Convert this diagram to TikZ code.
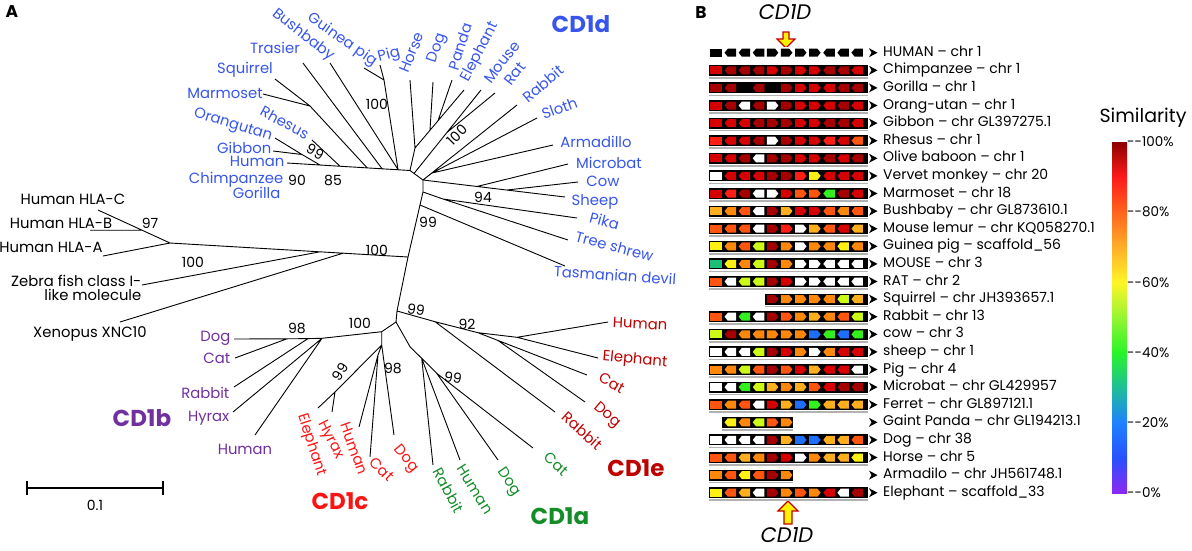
\documentclass[tikz,border=0pt]{standalone}
\usepackage{fontspec}
\setmainfont{Poppins}
\usepackage{tikz}

\definecolor{cdd}{RGB}{55,85,235}
\definecolor{cdb}{RGB}{112,48,160}
\definecolor{cdc}{RGB}{250,20,20}
\definecolor{cde}{RGB}{190,0,0}
\definecolor{cda}{RGB}{20,140,40}
\definecolor{gK}{RGB}{0,0,0}
\definecolor{gW}{RGB}{255,255,255}
\definecolor{gDR}{RGB}{165,0,0}
\definecolor{gR}{RGB}{215,0,0}
\definecolor{gBR}{RGB}{255,30,20}
\definecolor{gOR}{RGB}{255,85,15}
\definecolor{gO}{RGB}{255,135,10}
\definecolor{gLO}{RGB}{255,175,30}
\definecolor{gY}{RGB}{255,240,20}
\definecolor{gYG}{RGB}{205,250,20}
\definecolor{gG}{RGB}{50,240,30}
\definecolor{gTG}{RGB}{30,190,120}
\definecolor{gB}{RGB}{30,110,250}
\definecolor{sb0}{RGB}{140,40,240}
\definecolor{sb1}{RGB}{40,80,255}
\definecolor{sb2}{RGB}{30,130,255}
\definecolor{sb3}{RGB}{30,190,150}
\definecolor{sb4}{RGB}{40,245,40}
\definecolor{sb5}{RGB}{150,245,50}
\definecolor{sb6}{RGB}{255,245,40}
\definecolor{sb7}{RGB}{255,175,40}
\definecolor{sb8}{RGB}{255,100,30}
\definecolor{sb9}{RGB}{255,25,25}
\definecolor{sb10}{RGB}{140,0,0}
\pgfdeclareverticalshading{simbar}{100bp}{color(0bp)=(sb0); color(25bp)=(sb0); color(30bp)=(sb1);
  color(35bp)=(sb2); color(40bp)=(sb3); color(45bp)=(sb4); color(50bp)=(sb5); color(55bp)=(sb6);
  color(60bp)=(sb7); color(65bp)=(sb8); color(70bp)=(sb9); color(75bp)=(sb10); color(100bp)=(sb10)}

\begin{document}
\begin{tikzpicture}[x=1pt,y=-1pt,
  br/.style={line width=0.9pt},
  lf/.style={font=\fontsize{14.8}{16}\selectfont,inner sep=0.5pt,text height=10pt,text depth=2.5pt},
  bs/.style={font=\fontsize{14}{16}\selectfont,inner sep=0pt,text height=10pt,text depth=0pt},
  grp/.style={font=\fontsize{23}{26}\selectfont\bfseries,inner sep=0pt,text height=16pt,text depth=0pt},
  panel/.style={font=\fontsize{17}{20}\selectfont\bfseries,inner sep=0pt},
  rowlbl/.style={font=\fontsize{14}{15}\selectfont,anchor=west,inner sep=0pt,text height=9.5pt,text depth=2.5pt},
  tk/.style={font=\fontsize{13.5}{15}\selectfont,anchor=west,inner sep=0pt,text height=9.5pt,text depth=0pt},
  cdname/.style={font=\fontsize{21}{24}\selectfont\itshape,inner sep=0pt,text height=15pt,text depth=0pt},
  mk/.style={draw=cde,fill=yellow,line width=1.2pt,line join=miter}]
\useasboundingbox (0,0) rectangle (1192,550);

\node[panel] (pa) at (12,12) {A};
\node[panel] (pb) at (701,13) {B};

% CD1d
\coordinate (h1) at (410,170.5);
\coordinate (h2) at (423,180);
\coordinate (tdHum) at (287,163);
\coordinate (p1) at (320,165);
\coordinate (p2) at (302,154.5);
\coordinate (tdOra) at (275,138);
\coordinate (tdGib) at (273,151);
\coordinate (p3) at (340,166.2);
\coordinate (tdRhe) at (312,140);
\coordinate (q1) at (367,167.7);
\coordinate (q0) at (310,106);
\coordinate (tdMar) at (263,94);
\coordinate (tdSqu) at (275,79);
\coordinate (q2) at (382,168.6);
\coordinate (tdTra) at (303,63);
\coordinate (q3) at (398,169.5);
\coordinate (tdBus) at (330,63);
\coordinate (g0) at (384,80);
\coordinate (tdGui) at (364,68);
\coordinate (tdPig) at (380,65);
\coordinate (u1) at (415,148);
\coordinate (tdHor) at (410,80);
\coordinate (tdEle) at (464,90);
\coordinate (u2) at (430,130.2);
\coordinate (tdDog) at (433,82);
\coordinate (u3) at (438,120.8);
\coordinate (tdPan) at (452,80);
\coordinate (m0) at (414,173.5);
\coordinate (m1) at (447,132.4);
\coordinate (tdMou) at (481,90);
\coordinate (tdRat) at (495,93);
\coordinate (tdRab) at (517,105);
\coordinate (h3) at (432,173);
\coordinate (tdSlo) at (537,118);
\coordinate (tdArm) at (553,145);
\coordinate (s1) at (477,186.5);
\coordinate (s2) at (507,190);
\coordinate (tdShe) at (565,197);
\coordinate (tdMic) at (568,164);
\coordinate (tdCow) at (578,182);
\coordinate (t1) at (423,192);
\coordinate (t2) at (443,199);
\coordinate (tdPik) at (577,218);
\coordinate (tdTre) at (568,240);
\coordinate (t3) at (420,205);
\coordinate (tdTas) at (565,266);

\draw[br] (tdHum) -- (h1) -- (h2) (p1) -- (p2) -- (tdOra) (p2) -- (tdGib) (p3) -- (tdRhe)
  (q1) -- (q0) -- (tdMar) (q0) -- (tdSqu) (q2) -- (tdTra) (q3) -- (tdBus)
  (q3) -- (g0) -- (tdPig) (g0) -- (tdGui)
  (h1) -- (u1) -- (tdHor) (u1) -- (tdEle) (u2) -- (tdDog) (u3) -- (tdPan)
  (m0) -- (tdMou) (m1) -- (tdRat) (h2) -- (tdRab) (h2) -- (h3) -- (tdSlo) (h3) -- (tdArm)
  (h2) -- (tdShe) (s1) -- (tdMic) (s2) -- (tdCow)
  (t1) -- (t2) -- (tdPik) (t2) -- (tdTre) (t3) -- (tdTas);

\node[lf,text=cdd,rotate=-38] (ldBus) at (303,35) {Bushbaby};
\node[lf,text=cdd,rotate=-35] (ldGui) at (342,40) {Guinea pig};
\node[lf,text=cdd] (ldTra) at (275,50) {Trasier};
\node[lf,text=cdd] (ldSqu) at (245,70) {Squirrel};
\node[lf,text=cdd] (ldMar) at (225,95) {Marmoset};
\node[lf,text=cdd,rotate=-28] (ldRhe) at (284,124) {Rhesus};
\node[lf,text=cdd,rotate=-17] (ldOra) at (233,125) {Orangutan};
\node[lf,text=cdd,anchor=east] (ldGib) at (272,150) {Gibbon};
\node[lf,text=cdd,anchor=east] (ldHum) at (285,163) {Human};
\node[lf,text=cdd,anchor=east] (ldChi) at (284,180) {Chimpanzee};
\node[lf,text=cdd,anchor=east] (ldGor) at (281,195) {Gorilla};
\node[lf,text=cdd,rotate=15] (ldPig) at (389,55) {Pig};
\node[lf,text=cdd,rotate=68] (ldHor) at (413,53) {Horse};
\node[lf,text=cdd,rotate=72] (ldDog) at (437,48) {Dog};
\node[lf,text=cdd,rotate=72] (ldPan) at (462,47) {Panda};
\node[lf,text=cdd,rotate=62] (ldEle) at (480,52) {Elephant};
\node[lf,text=cdd,rotate=52] (ldMou) at (503,63) {Mouse};
\node[lf,text=cdd,rotate=52] (ldRat) at (516,75) {Rat};
\node[lf,text=cdd,rotate=40] (ldRab) at (544,85) {Rabbit};
\node[lf,text=cdd,rotate=20] (ldSlo) at (560,110) {Sloth};
\node[lf,text=cdd] (ldArm) at (596,144) {Armadillo};
\node[lf,text=cdd] (ldMic) at (609,165) {Microbat};
\node[lf,text=cdd] (ldCow) at (603,183) {Cow};
\node[lf,text=cdd] (ldShe) at (595,202) {Sheep};
\node[lf,text=cdd,rotate=-15] (ldPik) at (604,223) {Pika};
\node[lf,text=cdd,rotate=-15] (ldTre) at (614,248) {Tree shrew};
\node[lf,text=cdd,rotate=-4] (ldTas) at (615,277) {Tasmanian devil};
\node[grp,text=cdd] (gd) at (581,24) {CD1d};

% outgroups
\coordinate (o1) at (408,257);
\coordinate (hl1) at (170,243);
\coordinate (z0) at (320,251.8);
\coordinate (x0) at (343,253.2);
\coordinate (tZeb) at (142,285);
\coordinate (tXen) at (120,322);
\coordinate (tHLA) at (103,256);
\coordinate (tHLC) at (98,210);
\coordinate (hb) at (142,230.2);
\coordinate (tHLB) at (90,230.2);

\draw[br] (o1) -- (hl1) -- (tHLA) (hl1) -- (tHLC) (hb) -- (tHLB) (z0) -- (tZeb) (x0) -- (tXen);

\node[lf] (lHLC) at (73,201) {Human HLA-C};
\node[lf] (lHLB) at (61,225) {Human HLA-B};
\node[lf] (lHLA) at (51,249) {Human HLA-A};
\node[lf,anchor=east,align=right,font=\fontsize{14.8}{13.5}\selectfont,text height=,text depth=] (lZeb) at (142,288) {Zebra fish class I-\\like molecule};
\node[lf] (lXen) at (90,334) {Xenopus XNC10};

% backbone, CD1e, CD1a
\coordinate (b0) at (397,311);
\coordinate (h4) at (396,322);
\coordinate (e1) at (435,321.7);
\coordinate (e2) at (478,332.7);
\coordinate (e3) at (517,337.3);
\coordinate (e4) at (498,340.5);
\coordinate (teHum) at (608,322);
\coordinate (teEle) at (598,358);
\coordinate (teCat) at (587,375);
\coordinate (teDog) at (585,402);
\coordinate (teRab) at (555,412);
\coordinate (a0) at (410,346.7);
\coordinate (a1) at (421.7,358.3);
\coordinate (a2) at (436.7,373.3);
\coordinate (taRab) at (433,465);
\coordinate (taHum) at (460,460);
\coordinate (taDog) at (498,460);
\coordinate (taCat) at (533,448);

\draw[br] (h2) -- (t1) -- (t3) -- (o1) -- (b0) -- (h4)
  (b0) -- (e1) -- (e2) -- (e3) -- (teHum) (e3) -- (teEle) (e2) -- (teCat) (e4) -- (teDog) (e1) -- (teRab)
  (h4) -- (a0) -- (a1) -- (taRab) (a1) -- (taHum) (a1) -- (a2) -- (taDog) (a2) -- (taCat);

\node[lf,text=cde,rotate=-3] (leHum) at (640,325) {Human};
\node[lf,text=cde,rotate=-5] (leEle) at (635,360) {Elephant};
\node[lf,text=cde,rotate=-30] (leCat) at (611,384) {Cat};
\node[lf,text=cde,rotate=-40] (leDog) at (607,415) {Dog};
\node[lf,text=cde,rotate=-42] (leRab) at (581,432) {Rabbit};
\node[grp,text=cde] (ge) at (636,468) {CD1e};

\node[lf,text=cda,rotate=-62] (laRab) at (447,491) {Rabbit};
\node[lf,text=cda,rotate=-58] (laHum) at (474,490) {Human};
\node[lf,text=cda,rotate=-55] (laDog) at (509,482) {Dog};
\node[lf,text=cda,rotate=-42] (laCat) at (555,465) {Cat};
\node[grp,text=cda] (ga) at (560,516) {CD1a};

% CD1b, CD1c
\coordinate (h5) at (381.7,331.7);
\coordinate (h6) at (381.7,345);
\coordinate (b1) at (322,338.3);
\coordinate (b2) at (308,338.6);
\coordinate (b3) at (287,338.8);
\coordinate (tbDog) at (234,339);
\coordinate (tbCat) at (235,358);
\coordinate (tbRab) at (234,387);
\coordinate (tbHyr) at (233,412);
\coordinate (tbHum) at (255,435);
\coordinate (c1) at (335,392);
\coordinate (c2) at (378,355);
\coordinate (tcEle) at (318,408);
\coordinate (tcHyr) at (332,412);
\coordinate (tcHum) at (359,427);
\coordinate (tcCat) at (370,457);
\coordinate (tcDog) at (394,435);

\draw[br] (h4) -- (h5) -- (b1) -- (b2) -- (b3) -- (tbDog) (b3) -- (tbCat) (b2) -- (tbRab) (b1) -- (tbHyr) (b1) -- (tbHum)
  (h5) -- (h6) -- (c1) -- (tcEle) (c1) -- (tcHyr) (h6) -- (c2) -- (tcHum) (c2) -- (tcCat) (h6) -- (tcDog);

\node[lf,text=cdb,anchor=east] (lbDog) at (231,338) {Dog};
\node[lf,text=cdb,anchor=east] (lbCat) at (231,360) {Cat};
\node[lf,text=cdb,anchor=east] (lbRab) at (230,395) {Rabbit};
\node[lf,text=cdb,anchor=east] (lbHyr) at (230,418) {Hyrax};
\node[lf,text=cdb] (lbHum) at (245,451) {Human};
\node[grp,text=cdb] (gb) at (142,418) {CD1b};

\node[lf,text=cdc,rotate=-72] (lcEle) at (312,445) {Elephant};
\node[lf,text=cdc,rotate=-63] (lcHyr) at (331,440) {Hyrax};
\node[lf,text=cdc,rotate=-70] (lcHum) at (353,449) {Human};
\node[lf,text=cdc,rotate=-45] (lcCat) at (381,470) {Cat};
\node[lf,text=cdc,rotate=-50] (lcDog) at (406,459) {Dog};
\node[grp,text=cdc] (gc) at (340,501) {CD1c};

% bootstrap values
\node[bs,rotate=-30] (n1) at (315,152) {99};
\node[bs] (n2) at (297,180) {90};
\node[bs] (n3) at (333,180) {85};
\node[bs] (n4) at (377,104) {100};
\node[bs,rotate=45] (n5) at (457,135) {100};
\node[bs] (n6) at (483,197) {94};
\node[bs] (n7) at (428,222) {99};
\node[bs] (n8) at (377,250) {100};
\node[bs] (n9) at (193,262) {100};
\node[bs] (n10) at (150,223) {97};
\node[bs] (n11) at (297,328) {98};
\node[bs] (n12) at (360,323) {100};
\node[bs,rotate=-10] (n13) at (416,310) {99};
\node[bs] (n14) at (467,324) {92};
\node[bs,rotate=55] (n15) at (340,372) {99};
\node[bs] (n16) at (393,368) {98};
\node[bs,rotate=-10] (n17) at (453,378) {99};

% scale bar
\coordinate (sb0) at (27,488);
\coordinate (sb1) at (163,488);
\draw[line width=1.8pt] (sb0) -- (sb1) ([yshift=-7pt]sb0) -- ([yshift=7pt]sb0) ([yshift=-7pt]sb1) -- ([yshift=7pt]sb1);
\node[bs] (sbl) at (95,505) {0.1};

% panel B
\node[cdname] (cdTop) at (785,12) {CD1D};
\node[cdname] (cdBot) at (787,535) {CD1D};
\draw[mk] (783,32) -- (789,32) -- (789,39) -- (795,39) -- (786,48) -- (777,39) -- (783,39) -- cycle;
\draw[mk] (784,524) -- (792,524) -- (792,511) -- (798,511) -- (788,501) -- (778,511) -- (784,511) -- cycle;

\foreach \lbl/\xa/\xb/\fst/\bg/\cols [count=\r from 0] in {
  HUMAN – chr 1/709/868/0/white/{gK,gK,gK,gK,gK,gK,gK,gK,gK,gK,gK},
  Chimpanzee – chr 1/709/868/0/black/{gR,gDR,gDR,gDR,gR,gDR,gR,gR,gDR,gDR,gR},
  Gorilla – chr 1/709/868/0/black/{gDR,gDR,gK,gDR,gK,gDR,gR,gR,gR,gDR,gDR},
  Orang-utan – chr 1/709/868/0/black/{gR,gDR,gW,gDR,gW,gDR,gR,gR,gR,gDR,gR},
  Gibbon – chr GL397275.1/709/868/0/black/{gR,gR,gR,gDR,gDR,gDR,gR,gR,gDR,gDR,gR},
  Rhesus – chr 1/709/868/0/black/{gBR,gR,gR,gDR,gW,gDR,gR,gR,gBR,gR,gOR},
  Olive baboon – chr 1/709/868/0/black/{gR,gR,gDR,gW,gDR,gDR,gR,gR,gDR,gR,gDR},
  Vervet monkey – chr 20/709/868/0/black/{gW,gR,gR,gR,gDR,gDR,gBR,gY,gR,gR,gR},
  Marmoset – chr 18/709/868/0/black/{gR,gBR,gDR,gW,gW,gR,gOR,gOR,gG,gDR,gR},
  Bushbaby – chr GL873610.1/709/868/0/black/{gLO,gO,gOR,gW,gDR,gLO,gR,gR,gOR,gO,gOR},
  Mouse lemur – chr KQ058270.1/709/868/0/black/{gOR,gOR,gOR,gW,gDR,gBR,gW,gLO,gOR,gR,gLO},
  Guinea pig – scaffold\_56/709/868/0/black/{gY,gO,gOR,gYG,gDR,gO,gW,gO,gO,gY,gO},
  MOUSE – chr 3/709/868/0/black/{gTG,gY,gO,gYG,gDR,gO,gW,gW,gW,gW,gW},
  RAT – chr 2/709/868/0/black/{gOR,gW,gYG,gYG,gDR,gR,gW,gW,gW,gW,gW},
  Squirrel – chr JH393657.1/765/868/4/black/{gDR,gO,gO,gO,gO,gYG,gLO},
  Rabbit – chr 13/709/868/0/black/{gOR,gW,gG,gW,gDR,gOR,gO,gLO,gO,gOR,gYG},
  cow – chr 3/709/868/0/black/{gYG,gDR,gO,gO,gO,gO,gO,gB,gG,gB,gG},
  sheep – chr 1/709/868/0/black/{gW,gW,gW,gYG,gDR,gR,gO,gW,gO,gR,gR},
  Pig – chr 4/709/868/0/black/{gO,gO,gYG,gOR,gDR,gOR,gR,gLO,gR,gR,gW},
  Microbat – chr GL429957/709/868/0/black/{gW,gW,gG,gYG,gLO,gO,gLO,gOR,gR,gDR,gDR},
  Ferret – chr GL897121.1/709/868/0/black/{gOR,gO,gOR,gW,gR,gLO,gB,gG,gLO,gLO,gLO},
  Gaint Panda – chr GL194213.1/722/793/1/black/{gY,gO,gYG,gOR,gO},
  Dog – chr 38/709/868/0/black/{gW,gW,gW,gW,gDR,gLO,gB,gB,gLO,gLO,gOR},
  Horse – chr 5/709/868/0/black/{gOR,gOR,gLO,gO,gDR,gR,gW,gO,gLO,gLO,gY},
  Armadilo – chr JH561748.1/709/793/0/black/{gO,gOR,gY,gOR,gDR,gO},
  Elephant – scaffold\_33/709/868/0/black/{gY,gOR,gLO,gW,gDR,gO,gOR,gO,gR,gW,gDR}}{
  \pgfmathsetmacro\yy{52.7+17.6*\r}
  \draw[line width=1.5pt,\bg!30!white] (\xa,\yy+7.5) -- (\xb,\yy+7.5);
  \fill[\bg] (\xa,\yy-5.5) rectangle (\xb,\yy+5.5);
  \foreach \c [count=\i from \fst] in \cols {
    \pgfmathsetmacro\cx{716.2+14.1*\i}
    \ifnum\i=0\relax
      \fill[\c] (\cx-5.75,\yy-4) rectangle (\cx+5.75,\yy+4);
    \else\ifnum\i>3\relax\ifnum\i<8\relax
      \fill[\c] (\cx-5.75,\yy-4) -- (\cx+2.5,\yy-4) -- (\cx+5.75,\yy) -- (\cx+2.5,\yy+4) -- (\cx-5.75,\yy+4) -- cycle;
    \else
      \fill[\c] (\cx+5.75,\yy-4) -- (\cx-2.5,\yy-4) -- (\cx-5.75,\yy) -- (\cx-2.5,\yy+4) -- (\cx+5.75,\yy+4) -- cycle;
    \fi\else
      \fill[\c] (\cx+5.75,\yy-4) -- (\cx-2.5,\yy-4) -- (\cx-5.75,\yy) -- (\cx-2.5,\yy+4) -- (\cx+5.75,\yy+4) -- cycle;
    \fi\fi
  }
  \fill (869,\yy-4.5) -- (877.5,\yy) -- (869,\yy+4.5) -- (871.5,\yy) -- cycle;
  \node[rowlbl] (row\r) at (883,\yy) {\lbl};
}

% colour scale
\node[font=\fontsize{19}{22}\selectfont,inner sep=0pt] (simT) at (1143,118) {Similarity};
\shade[shading=simbar] (1112,142) rectangle (1127,493);
\foreach \p [count=\k from 0] in {100,80,60,40,20,0}
  \node[tk] (tk\k) at (1127,142+70.2*\k) {-{}-\p\%};
\end{tikzpicture}
\end{document}
